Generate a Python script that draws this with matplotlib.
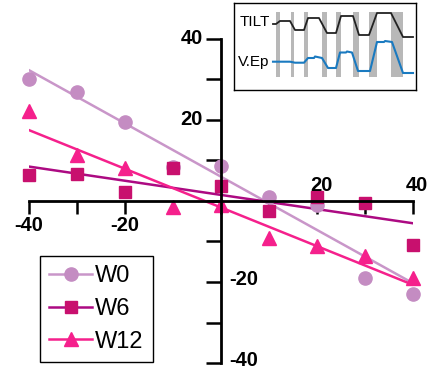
import matplotlib.pyplot as plt
import numpy as np

# datos
x = [-40, -30, -20, -10, 0, 10, 20, 30, 40]
w0 = [30.0, 27.0, 19.6, 8.3, 8.6, 1.1, -1.0, -18.9, -23.0]
w6 = [6.4, 6.7, 2.2, 8.1, 3.7, -2.4, 0.9, -0.6, -10.9]
w12 = [22.3, 11.4, 8.2, -1.4, -1.1, -9.2, -11.0, -13.7, -19.1]

# rectas de ajuste (extremos en x = -40 y x = 40)
fit_x = [-40, 40]
w0_fit = [32.3, -20.3]
w6_fit = [8.5, -5.5]
w12_fit = [17.5, -20.7]

xtick_labels = [-40, -20, 20, 40]
ytick_labels = [40, 20, -20, -40]
series_names = ["W0", "W6", "W12"]

# recuadro: trazos TILT y V.Ep (unidades arbitrarias)
tilt_t = [39, 42, 46, 56, 61, 70, 74, 85, 93, 102, 107, 119, 125, 135, 143, 157, 169, 179]
tilt_lvl = [66, 66, 69, 69, 60, 60, 72, 72, 57, 57, 74, 74, 55, 55, 77, 77, 53, 53]
vep_t = [39, 56, 61, 70, 74, 80, 81, 88, 94, 102, 106, 112, 113, 118, 124, 136, 143, 150, 151, 158, 169, 179]
vep_lvl = [28.3, 28.3, 27.3, 27.3, 32, 32, 33.5, 32, 22, 22, 37.5, 37.5, 38.5, 37.5, 19, 19, 48, 48, 49, 48, 17, 17]
bar_start = [42, 57, 70, 88, 102, 119, 135, 157]
bar_end = [46, 60, 74, 93, 107, 125, 143, 169]

plt.rcParams['font.family'] = ['Liberation Sans', 'DejaVu Sans']

c_w0 = '#c48cc2'
c_w0_line = '#c996c9'
c_w6 = '#c8106e'
c_w6_line = '#ac0a82'
c_w12 = '#f5208c'

fig = plt.figure(figsize=(4.3, 3.71), dpi=100)
ax = fig.add_axes([29/430, 1-363/371, 384/430, 324/371])

#Graficando puntos y rectas
ax.plot(fit_x, w0_fit, '-', color=c_w0_line, linewidth=1.8)
ax.plot(fit_x, w6_fit, '-', color=c_w6_line, linewidth=1.8)
ax.plot(fit_x, w12_fit, '-', color=c_w12, linewidth=1.8)
ax.plot(x, w0, 'o', color=c_w0, markersize=9.5, clip_on=False)
ax.plot(x, w6, 's', color=c_w6, markersize=8.5, clip_on=False)
ax.plot(x, w12, '^', color=c_w12, markersize=9.5, clip_on=False)

ax.set_xlim(-40, 40)
ax.set_ylim(-40, 40)

#Ejes cruzando en el origen
for s in ['top', 'right']:
    ax.spines[s].set_visible(False)
ax.spines['left'].set_position(('data', 0))
ax.spines['bottom'].set_position(('data', 0))
ax.spines['left'].set_linewidth(2)
ax.spines['bottom'].set_linewidth(2)
ax.set_xticks(np.arange(-40, 41, 10))
ax.set_yticks(np.arange(-40, 41, 10))
ax.tick_params(axis='x', direction='out', length=9, width=1.8, labelbottom=False)
ax.tick_params(axis='y', direction='out', length=11, width=1.8, labelleft=False)
ax.patch.set_alpha(0)

lab = dict(fontsize=14.5, fontweight='bold', textcoords='offset points')
for v in xtick_labels:
    if v < 0:
        ax.annotate(str(v), (v, 0), xytext=(0, -11), ha='center', va='top', **lab)
    else:
        ax.annotate(str(v), (v, 0), xytext=(3, 4), ha='center', va='bottom', **lab)
for v in ytick_labels:
    if v > 0:
        ax.annotate(str(v), (0, v), xytext=(-13, 0), ha='right', va='center', **lab)
    else:
        ax.annotate(str(v), (0, v), xytext=(6, 2), ha='left', va='center', **lab)

#Leyenda
handles = [
    plt.Line2D([], [], color=c_w0_line, marker='o', markerfacecolor=c_w0, markeredgecolor=c_w0, markersize=9.5, linewidth=1.8),
    plt.Line2D([], [], color=c_w6_line, marker='s', markerfacecolor=c_w6, markeredgecolor=c_w6, markersize=8.5, linewidth=1.8),
    plt.Line2D([], [], color=c_w12, marker='^', markerfacecolor=c_w12, markeredgecolor=c_w12, markersize=9.5, linewidth=1.8),
]
leg = fig.legend(handles, series_names, loc='lower left', bbox_to_anchor=(40/430, 1-362/371),
                 borderaxespad=0, fontsize=17, fancybox=False, edgecolor='black', framealpha=1,
                 handlelength=1.8, handletextpad=0.12, labelspacing=0.45, borderpad=0.4)
leg.get_frame().set_linewidth(1.0)

#Recuadro
ins = fig.add_axes([234/430, 1-90/371, 182/430, 87/371])
ins.set_xlim(0, 182)
ins.set_ylim(0, 87)
ins.set_xticks([])
ins.set_yticks([])
for s in ins.spines.values():
    s.set_linewidth(1.0)
for a, b in zip(bar_start, bar_end):
    ins.axvspan(a, b, ymin=13/87, ymax=78/87, color='#b8b8b8', linewidth=0)
ins.plot(tilt_t, tilt_lvl, '-', color='#222222', linewidth=1.3)
ins.plot(vep_t, vep_lvl, '-', color='#1a7ac0', linewidth=1.5)
ins.text(6, 68, 'TILT', fontsize=11, va='center', ha='left')
ins.text(4, 28, 'V.Ep', fontsize=11, va='center', ha='left')

fig.savefig('out.png', dpi=100)
